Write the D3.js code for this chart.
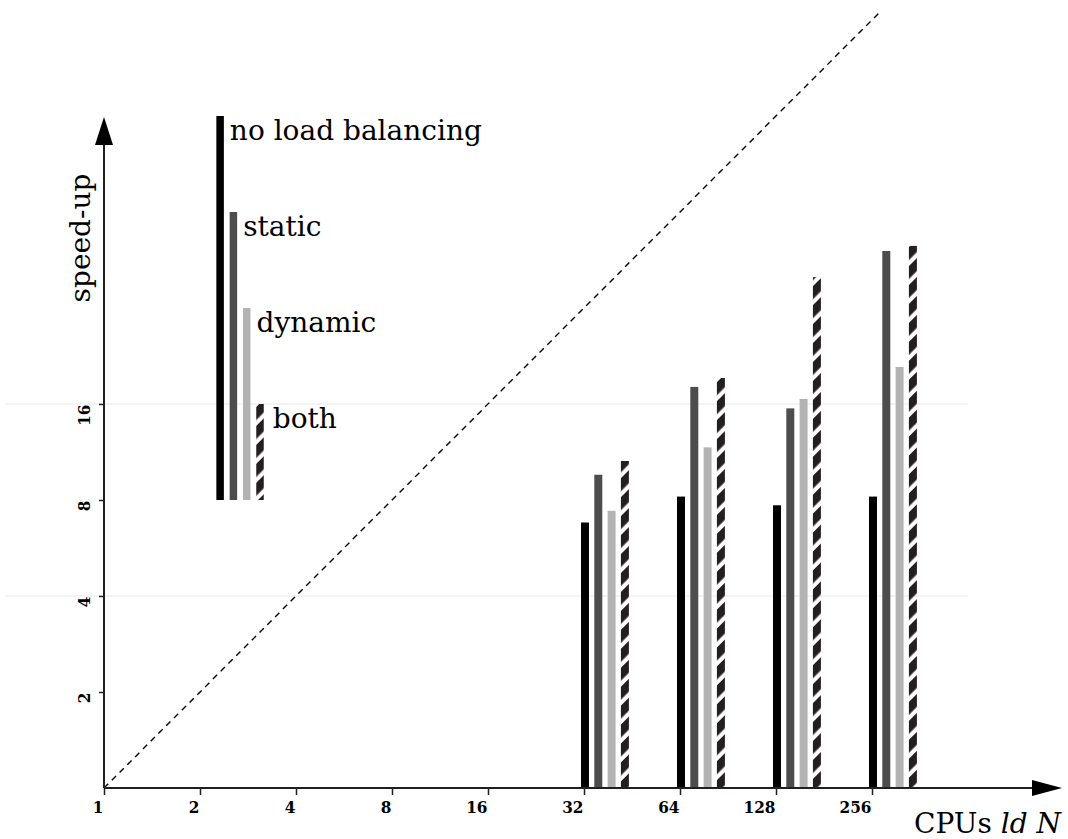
<!DOCTYPE html>
<html>
<head>
<meta charset="utf-8">
<script src="https://cdn.jsdelivr.net/npm/d3@7"></script>
<style>
  body { margin: 0; background: #fff; }
  svg { display: block; }
  text { font-family: "DejaVu Serif", serif; fill: #000; }
</style>
</head>
<body>
<div id="svgContainer"></div>
<script>
// data
var cpus = [32, 64, 128, 256];
var series = ["no load balancing", "static", "dynamic", "both"];
var noBalancing = [6.8, 8.2, 7.7, 8.2];
var staticLB = [9.6, 18.1, 15.5, 48.3];
var dynamicLB = [7.4, 11.7, 16.6, 20.9];
var bothLB = [10.6, 19.3, 40, 50.1];
var xTicks = [1, 2, 4, 8, 16, 32, 64, 128, 256];
var yTicks = [2, 4, 8, 16];
var gridValues = [4, 16];
var idealMax = 274;          // where the dashed y = x line stops
var legendCpu = 2.3;         // legend bars sit here on the x axis
var legendBase = 8;
var legendTops = [128, 64, 32, 16];

var width = 1068, height = 839;
var fills = ["#000000", "#4d4d4d", "#b3b3b3", "url(#hatch)"];
var barW = 8, barGap = 13.3;
var tickFont = '"DejaVu Serif Condensed", "DejaVu Serif", serif';

var svg = d3.select("#svgContainer").append("svg")
    .attr("width", width)
    .attr("height", height);

// diagonal stripes for the "both" bars
var defs = svg.append("defs");
defs.append("pattern")
    .attr("id", "hatch")
    .attr("patternUnits", "userSpaceOnUse")
    .attr("width", 13.4)
    .attr("height", 20)
    .attr("patternTransform", "rotate(45)")
  .append("rect")
    .attr("x", 0).attr("y", 0)
    .attr("width", 9.2).attr("height", 20)
    .style("fill", "#231f20");

var x = d3.scaleLog().base(2).domain([1, 512]).range([104, 968]);
var y = d3.scaleLog().base(2).domain([1, 512]).range([788, -76]);

// faint grid lines
svg.selectAll(".grid")
    .data(gridValues)
    .enter().append("line")
    .attr("x1", 5)
    .attr("x2", x(512))
    .attr("y1", function (d) { return y(d); })
    .attr("y2", function (d) { return y(d); })
    .style("stroke", "#efefef")
    .style("stroke-width", 1.5);

// ideal speed-up
svg.append("line")
    .attr("x1", x(1)).attr("y1", y(1))
    .attr("x2", x(idealMax)).attr("y2", y(idealMax))
    .style("stroke", "#000")
    .style("stroke-width", 1.4)
    .style("stroke-dasharray", "6,5");

// bars
var allSeries = [noBalancing, staticLB, dynamicLB, bothLB];
allSeries.forEach(function (vals, s) {
    svg.selectAll(".bar" + s)
        .data(vals)
        .enter().append("rect")
        .attr("x", function (d, i) { return x(cpus[i]) - 3 + s * barGap; })
        .attr("y", function (d) { return y(d); })
        .attr("width", barW)
        .attr("height", function (d) { return y(1) - y(d); })
        .style("fill", fills[s]);
});

// legend: bars from 8 up to 128/64/32/16 with names at the top
var legendX = x(legendCpu) - 3;
legendTops.forEach(function (top, s) {
    svg.append("rect")
        .attr("x", legendX + s * barGap)
        .attr("y", y(top))
        .attr("width", 7.5)
        .attr("height", y(legendBase) - y(top))
        .style("fill", fills[s]);
    svg.append("text")
        .attr("x", legendX + s * barGap + 7.5 + (s == 3 ? 9 : 6))
        .attr("y", y(top) + 24)
        .style("font-size", "28px")
        .text(series[s]);
});

// x axis
var xAxis = svg.append("g")
    .attr("transform", "translate(0," + y(1) + ")")
    .call(d3.axisBottom(x).tickValues(xTicks).tickFormat(d3.format("d")).tickSize(7).tickSizeOuter(0));
xAxis.select(".domain").remove();
xAxis.selectAll("line").style("stroke", "#231f20").style("stroke-width", 1.5);
xAxis.selectAll("text")
    .attr("text-anchor", "end")
    .attr("x", -1)
    .attr("y", 25)
    .attr("dy", 0)
    .style("font-family", tickFont)
    .style("font-weight", "bold")
    .style("font-size", "17px");

// y axis
var yAxis = svg.append("g")
    .attr("transform", "translate(" + x(1) + ",0)")
    .call(d3.axisLeft(y).tickValues(yTicks).tickFormat(d3.format("d")).tickSize(5).tickSizeOuter(0));
yAxis.select(".domain").remove();
yAxis.selectAll("line").style("stroke", "#231f20").style("stroke-width", 1.5);
yAxis.selectAll("text")
    .attr("text-anchor", "end")
    .attr("x", 0)
    .attr("dy", 0)
    .attr("transform", "translate(-14,0) rotate(-90)")
    .style("font-family", tickFont)
    .style("font-weight", "bold")
    .style("font-size", "17px");

// axis lines with arrow heads
svg.append("line")
    .attr("x1", x(1)).attr("y1", y(1))
    .attr("x2", 1040).attr("y2", y(1))
    .style("stroke", "#231f20").style("stroke-width", 2);
svg.append("path")
    .attr("d", "M1032," + (y(1) - 8) + "L1062," + y(1) + "L1032," + (y(1) + 8) + "Z")
    .style("fill", "#000");
svg.append("line")
    .attr("x1", x(1)).attr("y1", y(1))
    .attr("x2", x(1)).attr("y2", 140)
    .style("stroke", "#231f20").style("stroke-width", 2);
svg.append("path")
    .attr("d", "M" + (x(1) - 9) + ",145L" + x(1) + ",117L" + (x(1) + 9) + ",145Z")
    .style("fill", "#000");

// axis titles
svg.append("text")
    .attr("transform", "translate(90,238) rotate(-90)")
    .attr("text-anchor", "middle")
    .style("font-size", "28px")
    .text("speed-up");

var xTitle = svg.append("text")
    .attr("x", 1061)
    .attr("y", 833)
    .attr("text-anchor", "end")
    .style("font-size", "28px");
xTitle.append("tspan").text("CPUs ");
xTitle.append("tspan").style("font-style", "italic").text("ld N");
</script>
</body>
</html>
